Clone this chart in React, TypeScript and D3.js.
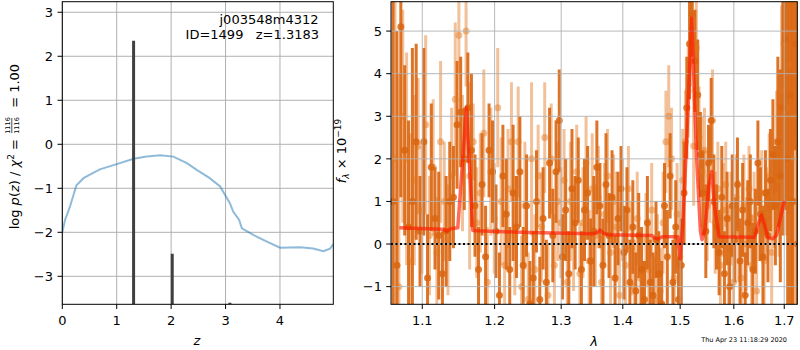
import React from 'react';
import * as d3 from 'd3';

// redshift fit (left panel)
const zGrid = [0, 0.05, 0.14, 0.26, 0.39, 0.55, 0.69, 1.0, 1.31, 1.55, 1.8, 2.04, 2.29, 2.47, 2.71, 2.9, 3.08, 3.14, 3.25, 3.3, 3.51, 3.76, 4.0, 4.37, 4.61, 4.8, 4.92, 4.98];
const logPz = [-2.0, -1.72, -1.42, -0.93, -0.77, -0.66, -0.57, -0.45, -0.33, -0.28, -0.25, -0.28, -0.43, -0.58, -0.77, -0.96, -1.34, -1.53, -1.72, -1.91, -2.06, -2.21, -2.35, -2.34, -2.37, -2.43, -2.37, -2.27];
const zPeaks = [1.31, 2.02, 3.08];
const peakTop = [2.35, -2.49, -3.6];
const zTicks = [0, 1, 2, 3, 4];
const pzTicks = [-3, -2, -1, 0, 1, 2, 3];

// spectrum (right panel), regular grism sampling
const waveStart = 1.062;
const waveStep = 0.005;
const fluxA = [1.0, -0.5, 5.1, 2.2, 0.4, 1.0, 2.4, 0.3, 2.4, -0.8,
  1.8, 0.6, 0.2, -0.7, 0.3, 1.0, 1.1, 2.8, 3.1, 2.0,
  3.2, 2.2, 0.9, -0.6, 1.4, -0.3, 2.2, 1.7, 0.3, -1.2,
  1.6, 0.7, -0.6, 1.2, 0.4, 1.7, -0.5, 0.9, -1.4, -0.8,
  1.0, -1.3, 0.6, -0.9, 1.9, 0.2, 1.7, 2.9, -0.3, 0.8,
  -0.7, 1.3, 0.5, 1.5, -0.6, 0.8, 1.2, -0.4, 0.3, 1.8,
  0.9, -0.5, 1.4, 0.2, 1.1, -0.8, 0.6, 1.3, -0.2, 0.8,
  -0.9, 0.4, -1.1, 0.2, -0.6, -1.3, 0.5, -0.9, -1.2, 0.1,
  -0.7, -1.4, 0.9, -0.3, 1.6, -0.9, 0.4, -1.3, -0.5, 1.2,
  3.2, 4.7, 5.4, 4.3, 3.5, 2.1, 1.2, 0.3, 1.9, 2.9,
  1.0, 0.4, -0.2, 1.1, -0.7, 0.6, -1.0, 0.9, 0.1, 1.4,
  -0.4, 0.8, -1.2, 0.5, 1.0, -0.6, 0.3, 1.9, 0.7, -0.3,
  1.2, 0.2, 1.5, 2.1, 0.9, 2.4, 1.6, 3.2, 4.8, 2.0,
  3.5, 1.0, 4.7, 0.0];
const errA = [6.0, 5.5, 4.0, 2.0, 2.5, 3.6, 2.3, 1.3, 2.2, 1.5,
  1.5, 1.2, 1.5, 1.0, 1.3, 1.4, 1.2, 1.5, 1.3, 1.2,
  1.3, 1.8, 1.2, 1.0, 1.2, 1.2, 1.1, 1.2, 1.1, 1.0,
  1.2, 1.3, 1.0, 1.6, 1.2, 1.3, 0.9, 1.2, 1.0, 1.1,
  1.2, 1.0, 1.2, 1.0, 1.3, 1.1, 1.2, 1.2, 1.0, 1.2,
  1.0, 1.4, 1.1, 1.0, 0.9, 1.2, 1.1, 1.0, 1.3, 1.1,
  1.0, 1.1, 1.2, 1.0, 1.1, 1.0, 1.1, 1.0, 1.1, 1.0,
  1.0, 1.1, 0.9, 1.0, 1.0, 0.9, 1.1, 1.0, 1.0, 0.9,
  1.0, 1.0, 1.0, 1.1, 1.0, 1.0, 1.1, 1.0, 1.1, 1.2,
  1.2, 1.3, 1.0, 1.2, 1.3, 1.0, 1.0, 1.1, 0.9, 1.0,
  1.1, 1.0, 1.0, 1.2, 1.0, 1.1, 1.0, 1.2, 1.0, 1.1,
  1.0, 1.1, 1.0, 1.0, 1.1, 1.1, 1.0, 1.0, 1.1, 1.2,
  1.0, 1.1, 1.2, 1.3, 1.4, 2.0, 2.5, 3.0, 4.0, 5.0,
  5.0, 5.5, 2.5, 6.0];
const fluxB = [2.0, -1.0, 3.0, 2.0, -0.4, 1.5, 2.3, 0.8, 2.8, 0.2,
  1.8, -0.2, 2.4, 1.0, 0.1, 1.6, 3.4, 4.9, 1.9, 5.0,
  1.6, 2.4, 0.5, 1.2, 2.6, -0.9, 1.7, 0.6, 3.2, 1.0,
  -0.5, 1.3, 2.4, 0.2, 2.4, -1.0, 0.9, -1.3, 2.0, -0.6,
  1.6, 0.4, 2.5, -1.2, 2.0, -0.5, 1.0, 0.5, 1.5, -0.9,
  1.0, 0.1, 1.7, -0.7, 0.5, 1.9, -0.4, 1.3, 0.2, 1.1,
  -0.9, 0.7, 1.6, -0.2, 1.0, 0.4, -1.2, 0.8, -0.5, 1.3,
  -0.1, -1.0, 0.6, -0.8, -1.4, 0.1, -0.6, 0.8, -1.3, -0.4,
  -1.1, 0.5, 2.4, 3.0, 2.0, -0.8, 0.7, -0.3, 1.5, 2.4,
  3.6, 4.7, 2.3, 4.6, 2.5, 1.7, 2.2, 0.9, 1.6, 2.9,
  0.5, 1.3, -0.5, 0.8, 1.4, -0.3, 0.6, -0.9, 1.1, 0.3,
  -0.8, 0.9, 0.0, 1.3, -0.5, 0.6, -1.1, 0.8, 1.2, -0.4,
  0.7, 1.6, -0.2, 1.1, 2.4, 1.5, 3.6, 4.7, 3.2, 4.2,
  2.0, 3.0, 1.0, 2.5];
const errB = [6.0, 5.0, 2.5, 2.5, 3.0, 2.0, 1.6, 1.5, 2.1, 1.4,
  1.6, 1.3, 1.9, 1.4, 1.3, 1.6, 1.8, 0.9, 1.6, 1.3,
  2.2, 0.9, 1.3, 1.4, 1.5, 1.3, 1.5, 1.3, 1.4, 1.5,
  1.3, 1.4, 1.4, 1.4, 1.3, 1.2, 1.5, 1.1, 1.8, 1.3,
  1.2, 1.3, 1.3, 1.2, 1.3, 1.2, 1.4, 1.3, 1.2, 1.2,
  1.4, 1.2, 1.1, 1.2, 1.3, 1.1, 1.2, 1.3, 1.2, 1.2,
  1.1, 1.2, 1.1, 1.2, 1.1, 1.3, 1.1, 1.2, 1.2, 1.0,
  1.1, 1.1, 1.1, 1.1, 1.0, 1.1, 1.2, 1.1, 1.0, 1.1,
  1.0, 1.2, 1.2, 1.2, 1.2, 1.1, 1.2, 1.3, 1.2, 1.2,
  1.1, 1.0, 1.4, 1.1, 1.2, 1.3, 1.0, 1.3, 1.1, 1.2,
  1.2, 1.1, 1.2, 1.1, 1.0, 1.2, 1.1, 1.2, 1.0, 1.2,
  1.1, 1.2, 1.1, 1.0, 1.2, 1.1, 1.1, 1.2, 1.0, 1.2,
  1.1, 1.0, 1.3, 1.2, 1.2, 1.8, 2.0, 1.5, 3.0, 3.5,
  5.0, 5.0, 6.0, 6.0];
const modelWave = [1.070, 1.128, 1.133, 1.138, 1.148, 1.160, 1.169, 1.175, 1.250, 1.350,
  1.358, 1.362, 1.368, 1.375, 1.450, 1.455, 1.460, 1.468, 1.496, 1.500,
  1.505, 1.512, 1.521, 1.530, 1.537, 1.540, 1.545, 1.553, 1.558, 1.563,
  1.572, 1.640, 1.647, 1.654, 1.660, 1.667, 1.676, 1.684, 1.692, 1.699, 1.703];
const modelFlux = [0.38, 0.35, 0.30, 0.36, 0.38, 3.2, 0.32, 0.31, 0.27, 0.24,
  0.27, 0.33, 0.25, 0.22, 0.20, 0.14, 0.12, 0.17, 0.17, -0.35,
  0.5, 2.5, 5.3, 2.0, 0.3, 0.1, 0.3, 1.4, 1.7, 0.9,
  0.17, 0.16, 0.45, 0.68, 0.45, 0.15, 0.12, 0.2, 0.6, 0.97, 0.96];
const waveTicks = [1.1, 1.2, 1.3, 1.4, 1.5, 1.6, 1.7];
const fluxTicks = [-1, 0, 1, 2, 3, 4, 5];

const FONT = 'DejaVu Sans, sans-serif';
const GRID = '#b0b0b0';
const DARK = '#d9650f';
const LIGHT = '#e2751c';
const NB = '\u00a0';
const fmt = (v: number) => (v < 0 ? '\u2212' + Math.abs(v) : String(v));

const App: React.FC = () => {
  const lx = d3.scaleLinear().domain([0, 4.98]).range([62.3, 333.3]);
  const ly = d3.scaleLinear().domain([-3.636, 3.24]).range([304.3, 1.7]);
  const rx = d3.scaleLog().domain([1.0594, 1.7269]).range([391, 797.3]);
  const ry = d3.scaleLinear().domain([-1.415, 5.69]).range([304.3, 1.7]);

  const pzLine = d3.line<number>().x((_, i) => lx(zGrid[i])).y(d => ly(d))(logPz) || '';
  const modelLine = d3.line<number>().x((_, i) => rx(modelWave[i])).y(d => ry(d))(modelFlux) || '';

  const spec = (flux: number[], err: number[], offset: number) =>
    flux.map((f, i) => ({ w: waveStart + offset + waveStep * i, f, e: err[i] }));
  const specA = spec(fluxA, errA, 0);
  const specB = spec(fluxB, errB, waveStep / 2);

  return (
    <svg width={800} height={350} style={{ position: 'absolute', left: 0, top: 0, background: '#fff' }}
      fontFamily={FONT}>
      <defs>
        <clipPath id="clipL"><rect x={62.3} y={1.7} width={271} height={302.6} /></clipPath>
        <clipPath id="clipR"><rect x={391} y={1.7} width={406.3} height={302.6} /></clipPath>
      </defs>

      {/* left panel */}
      <g>
        {zTicks.map(t => (
          <line key={'gx' + t} x1={lx(t)} x2={lx(t)} y1={1.7} y2={304.3} stroke={GRID} strokeWidth={1} />
        ))}
        {pzTicks.map(t => (
          <line key={'gy' + t} x1={62.3} x2={333.3} y1={ly(t)} y2={ly(t)} stroke={GRID} strokeWidth={1} />
        ))}
        <g clipPath="url(#clipL)">
          <path d={pzLine} fill="none" stroke="#1f77b4" strokeOpacity={0.5} strokeWidth={2} />
          {zPeaks.map((z, i) => (
            <line key={'pk' + i} x1={lx(z)} x2={lx(z)} y1={ly(-3.636)} y2={ly(peakTop[i])}
              stroke="#404040" strokeWidth={3} />
          ))}
        </g>
        <rect x={62.3} y={1.7} width={271} height={302.6} fill="none" stroke="#000" strokeWidth={1} />
        {zTicks.map(t => (
          <g key={'tx' + t}>
            <line x1={lx(t)} x2={lx(t)} y1={304.3} y2={309} stroke="#000" />
            <text x={lx(t)} y={325} fontSize={13} textAnchor="middle">{fmt(t)}</text>
          </g>
        ))}
        {pzTicks.map(t => (
          <g key={'ty' + t}>
            <line x1={57.5} x2={62.3} y1={ly(t)} y2={ly(t)} stroke="#000" />
            <text x={53} y={ly(t)} dy="0.36em" fontSize={13} textAnchor="end">{fmt(t)}</text>
          </g>
        ))}
        <text x={318.5} y={24} fontSize={13} textAnchor="end">j003548m4312</text>
        <text x={319} y={38.5} fontSize={13} textAnchor="end">{`ID=1499${NB}${NB}${NB}z=1.3183`}</text>
        <text x={197} y={345} fontSize={13} textAnchor="middle" fontStyle="italic">z</text>
        <g transform="translate(19,153) rotate(-90)" fontSize={13}>
          <text x={14} y={0} textAnchor="end">
            {`log${NB}`}<tspan fontStyle="italic">p</tspan>(<tspan fontStyle="italic">z</tspan>){`${NB}/${NB}`}<tspan fontStyle="italic">χ</tspan>
            <tspan fontSize={9} dy={-5}>2</tspan><tspan dy={5}>{`${NB}=`}</tspan>
          </text>
          <text x={27.5} y={-9} fontSize={6.5} textAnchor="middle">1116</text>
          <line x1={20} x2={35} y1={-7.2} y2={-7.2} stroke="#000" strokeWidth={0.7} />
          <text x={27.5} y={-0.5} fontSize={6.5} textAnchor="middle">1116</text>
          <text x={41} y={0}>{`${NB}=${NB}1.00`}</text>
        </g>
      </g>

      {/* right panel */}
      <g>
        <g clipPath="url(#clipR)">
          {specB.map((d, i) => (
            <line key={'eb' + i} x1={rx(d.w)} x2={rx(d.w)} y1={ry(d.f - d.e)} y2={ry(d.f + d.e)}
              stroke={LIGHT} strokeOpacity={0.45} strokeWidth={3} />
          ))}
          {specA.map((d, i) => (
            <line key={'ea' + i} x1={rx(d.w)} x2={rx(d.w)} y1={ry(d.f - d.e)} y2={ry(d.f + d.e)}
              stroke={DARK} strokeOpacity={0.9} strokeWidth={3} />
          ))}
          {specB.map((d, i) => (
            <circle key={'mb' + i} cx={rx(d.w)} cy={ry(d.f)} r={3.5} fill={LIGHT} fillOpacity={0.45} />
          ))}
          {specA.map((d, i) => (
            <circle key={'ma' + i} cx={rx(d.w)} cy={ry(d.f)} r={3.5} fill={DARK} fillOpacity={0.85} />
          ))}
        </g>
        {waveTicks.map(t => (
          <line key={'gw' + t} x1={rx(t)} x2={rx(t)} y1={1.7} y2={304.3} stroke={GRID} strokeWidth={1} strokeOpacity={0.9} />
        ))}
        {fluxTicks.map(t => (
          <line key={'gf' + t} x1={391} x2={797.3} y1={ry(t)} y2={ry(t)} stroke={GRID} strokeWidth={1} strokeOpacity={0.9} />
        ))}
        <g clipPath="url(#clipR)">
          <path d={modelLine} fill="none" stroke="#ff1a00" strokeOpacity={0.65} strokeWidth={3.5} strokeLinejoin="round" />
          <line x1={391} x2={797.3} y1={ry(0)} y2={ry(0)} stroke="#000" strokeWidth={2} strokeDasharray="2,2.5" />
        </g>
        <rect x={391} y={1.7} width={406.3} height={302.6} fill="none" stroke="#000" strokeWidth={1} />
        {waveTicks.map(t => (
          <g key={'tw' + t}>
            <line x1={rx(t)} x2={rx(t)} y1={304.3} y2={309} stroke="#000" />
            <text x={rx(t)} y={325} fontSize={13} textAnchor="middle">{t.toFixed(1)}</text>
          </g>
        ))}
        {fluxTicks.map(t => (
          <g key={'tf' + t}>
            <line x1={386.2} x2={391} y1={ry(t)} y2={ry(t)} stroke="#000" />
            <text x={382} y={ry(t)} dy="0.36em" fontSize={13} textAnchor="end">{fmt(t)}</text>
          </g>
        ))}
        <text x={594} y={346} fontSize={13} textAnchor="middle" fontStyle="italic">λ</text>
        <g transform="translate(346,151) rotate(-90)" fontSize={13}>
          <text x={0} y={0} textAnchor="middle">
            <tspan fontStyle="italic">f</tspan><tspan fontSize={9} dy={3} fontStyle="italic">λ</tspan>
            <tspan dy={-3}>{`${NB}×${NB}10`}</tspan><tspan fontSize={9} dy={-5}>−19</tspan>
          </text>
        </g>
        <text x={787} y={342} fontSize={6.5} textAnchor="end">Thu Apr 23 11:18:29 2020</text>
      </g>
    </svg>
  );
};

export default App;
